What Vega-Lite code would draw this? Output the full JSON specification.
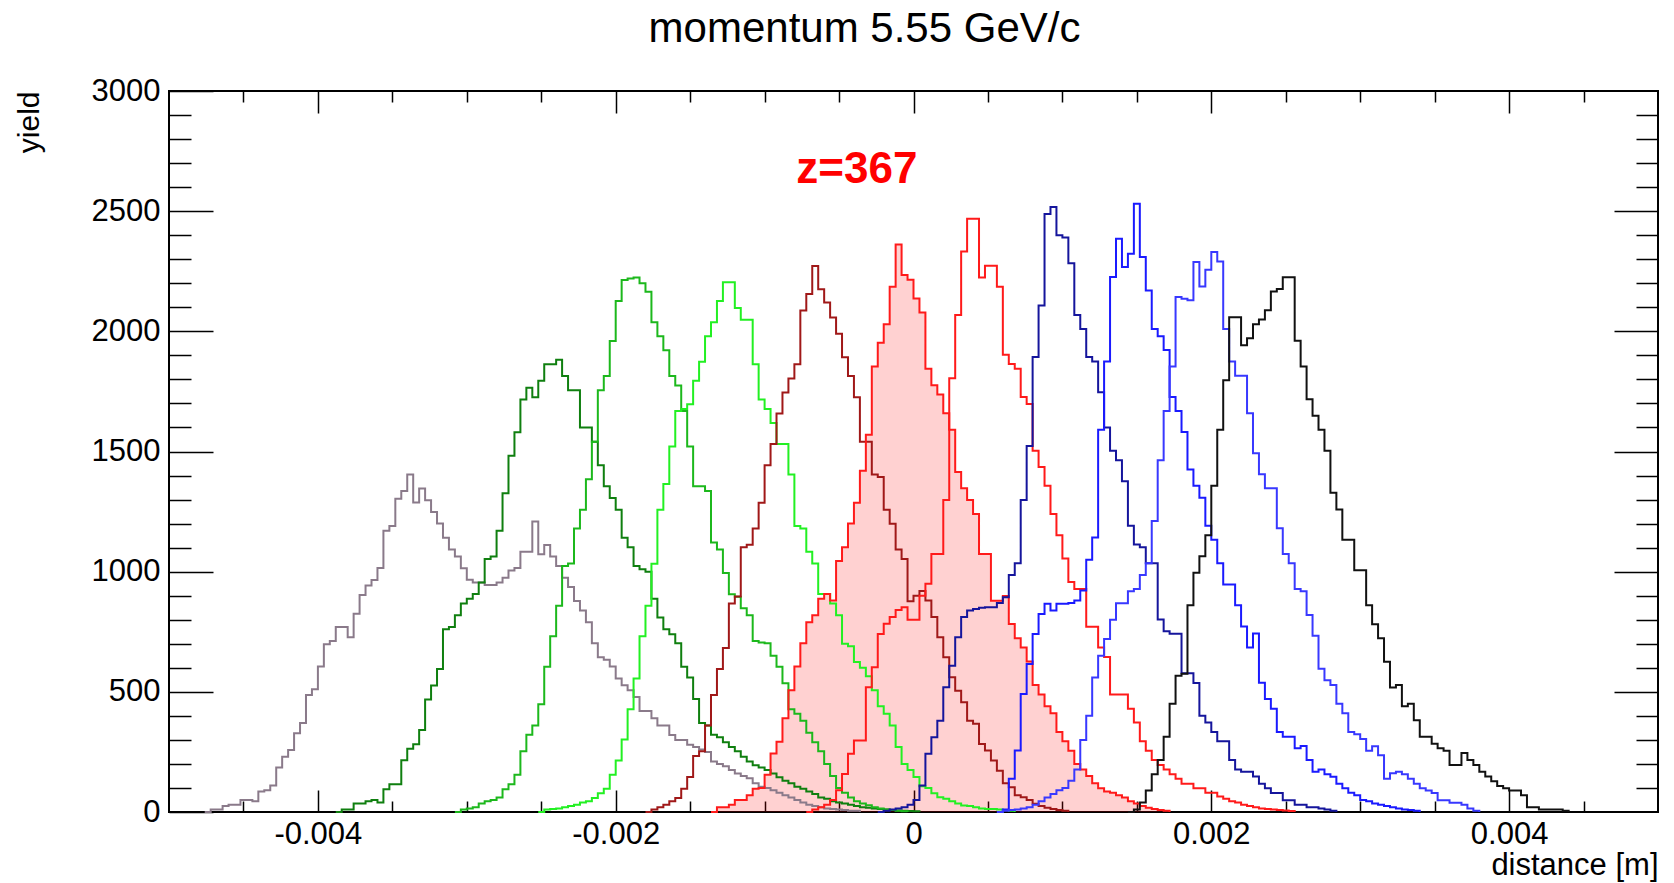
{
  "$schema": "https://vega.github.io/schema/vega-lite/v6.json",
  "width": 1489,
  "height": 721,
  "autosize": "none",
  "padding": {"left": 169, "top": 91, "right": 16, "bottom": 71},
  "background": "#ffffff",
  "view": {"stroke": "#000000", "strokeWidth": 2},
  "title": {
    "text": "momentum 5.55 GeV/c",
    "font": "Liberation Sans",
    "fontSize": 42,
    "fontWeight": "normal",
    "color": "#000000",
    "anchor": "middle",
    "frame": "group",
    "dx": -49,
    "offset": -9,
    "baseline": "alphabetic"
  },
  "data": {
    "values": [
      {"x":-0.00476,"gray":0},
      {"x":-0.00472,"gray":10},
      {"x":-0.00468,"gray":10},
      {"x":-0.00464,"gray":25},
      {"x":-0.0046,"gray":30},
      {"x":-0.00456,"gray":30},
      {"x":-0.00452,"gray":50},
      {"x":-0.00448,"gray":50},
      {"x":-0.00444,"gray":45},
      {"x":-0.0044,"gray":85},
      {"x":-0.00436,"gray":90},
      {"x":-0.00432,"gray":110},
      {"x":-0.00428,"gray":185},
      {"x":-0.00424,"gray":230},
      {"x":-0.0042,"gray":258},
      {"x":-0.00416,"gray":328},
      {"x":-0.00412,"gray":370},
      {"x":-0.00408,"gray":487},
      {"x":-0.00404,"gray":511},
      {"x":-0.004,"gray":605},
      {"x":-0.00396,"gray":698},
      {"x":-0.00392,"gray":712},
      {"x":-0.00388,"gray":770,"dkgreen":0},
      {"x":-0.00384,"gray":770,"dkgreen":10},
      {"x":-0.0038,"gray":727,"dkgreen":10},
      {"x":-0.00376,"gray":825,"dkgreen":35},
      {"x":-0.00372,"gray":903,"dkgreen":35},
      {"x":-0.00368,"gray":942,"dkgreen":45},
      {"x":-0.00364,"gray":965,"dkgreen":50},
      {"x":-0.0036,"gray":1015,"dkgreen":40},
      {"x":-0.00356,"gray":1170,"dkgreen":95},
      {"x":-0.00352,"gray":1190,"dkgreen":115},
      {"x":-0.00348,"gray":1303,"dkgreen":115},
      {"x":-0.00344,"gray":1336,"dkgreen":215},
      {"x":-0.0034,"gray":1404,"dkgreen":263},
      {"x":-0.00336,"gray":1288,"dkgreen":282},
      {"x":-0.00332,"gray":1346,"dkgreen":341},
      {"x":-0.00328,"gray":1297,"dkgreen":468},
      {"x":-0.00324,"gray":1248,"dkgreen":526},
      {"x":-0.0032,"gray":1200,"dkgreen":595},
      {"x":-0.00316,"gray":1141,"dkgreen":760},
      {"x":-0.00312,"gray":1092,"dkgreen":770},
      {"x":-0.00308,"gray":1063,"dkgreen":819,"green":0},
      {"x":-0.00304,"gray":1014,"dkgreen":868,"green":10},
      {"x":-0.003,"gray":966,"dkgreen":887,"green":15},
      {"x":-0.00296,"gray":955,"dkgreen":907,"green":20},
      {"x":-0.00292,"gray":955,"dkgreen":955,"green":35},
      {"x":-0.00288,"gray":945,"dkgreen":1053,"green":45},
      {"x":-0.00284,"gray":945,"dkgreen":1063,"green":50},
      {"x":-0.0028,"gray":955,"dkgreen":1170,"green":60},
      {"x":-0.00276,"gray":975,"dkgreen":1326,"green":95},
      {"x":-0.00272,"gray":1005,"dkgreen":1482,"green":115},
      {"x":-0.00268,"gray":1015,"dkgreen":1580,"green":155},
      {"x":-0.00264,"gray":1083,"dkgreen":1716,"green":253},
      {"x":-0.0026,"gray":1083,"dkgreen":1765,"green":321},
      {"x":-0.00256,"gray":1209,"dkgreen":1726,"green":360},
      {"x":-0.00252,"gray":1072,"dkgreen":1794,"green":448,"ltgreen":0},
      {"x":-0.00248,"gray":1111,"dkgreen":1863,"green":604,"ltgreen":10},
      {"x":-0.00244,"gray":1063,"dkgreen":1863,"green":731,"ltgreen":12},
      {"x":-0.0024,"gray":1024,"dkgreen":1882,"green":858,"ltgreen":15},
      {"x":-0.00236,"gray":975,"dkgreen":1814,"green":1024,"ltgreen":20},
      {"x":-0.00232,"gray":936,"dkgreen":1755,"green":1034,"ltgreen":25},
      {"x":-0.00228,"gray":878,"dkgreen":1755,"green":1180,"ltgreen":30},
      {"x":-0.00224,"gray":838,"dkgreen":1600,"green":1258,"ltgreen":40},
      {"x":-0.0022,"gray":790,"dkgreen":1600,"green":1385,"ltgreen":45},
      {"x":-0.00216,"gray":702,"dkgreen":1541,"green":1541,"ltgreen":58},
      {"x":-0.00212,"gray":644,"dkgreen":1443,"green":1755,"ltgreen":78},
      {"x":-0.00208,"gray":634,"dkgreen":1355,"green":1814,"ltgreen":97},
      {"x":-0.00204,"gray":605,"dkgreen":1307,"green":1960,"ltgreen":155},
      {"x":-0.002,"gray":556,"dkgreen":1258,"green":2126,"ltgreen":214},
      {"x":-0.00196,"gray":527,"dkgreen":1141,"green":2214,"ltgreen":302},
      {"x":-0.00192,"gray":507,"dkgreen":1102,"green":2220,"ltgreen":428},
      {"x":-0.00188,"gray":478,"dkgreen":1024,"green":2224,"ltgreen":555},
      {"x":-0.00184,"gray":420,"dkgreen":1010,"green":2200,"ltgreen":731},
      {"x":-0.0018,"gray":420,"dkgreen":1000,"green":2165,"ltgreen":858,"dkred":0},
      {"x":-0.00176,"gray":390,"dkgreen":887,"green":2038,"ltgreen":1033,"dkred":10},
      {"x":-0.00172,"gray":360,"dkgreen":809,"green":1980,"ltgreen":1258,"dkred":20},
      {"x":-0.00168,"gray":360,"dkgreen":760,"green":1921,"ltgreen":1365,"dkred":30},
      {"x":-0.00164,"gray":320,"dkgreen":740,"green":1814,"ltgreen":1521,"dkred":45},
      {"x":-0.0016,"gray":300,"dkgreen":702,"green":1775,"ltgreen":1668,"dkred":58},
      {"x":-0.00156,"gray":300,"dkgreen":604,"green":1668,"ltgreen":1677,"dkred":97},
      {"x":-0.00152,"gray":280,"dkgreen":560,"green":1521,"ltgreen":1697,"dkred":146},
      {"x":-0.00148,"gray":270,"dkgreen":470,"green":1355,"ltgreen":1794,"dkred":233},
      {"x":-0.00144,"gray":260,"dkgreen":370,"green":1355,"ltgreen":1873,"dkred":253},
      {"x":-0.0014,"gray":250,"dkgreen":360,"green":1336,"ltgreen":1980,"dkred":360},
      {"x":-0.00136,"gray":210,"dkgreen":321,"green":1121,"ltgreen":2038,"dkred":487,"fill":0},
      {"x":-0.00132,"gray":200,"dkgreen":311,"green":1092,"ltgreen":2126,"dkred":595,"fill":20},
      {"x":-0.00128,"gray":190,"dkgreen":290,"green":994,"ltgreen":2204,"dkred":682,"fill":20},
      {"x":-0.00124,"gray":175,"dkgreen":270,"green":906,"ltgreen":2204,"dkred":868,"fill":30},
      {"x":-0.0012,"gray":160,"dkgreen":253,"green":896,"ltgreen":2097,"dkred":897,"fill":50},
      {"x":-0.00116,"gray":150,"dkgreen":230,"green":848,"ltgreen":2048,"dkred":1102,"fill":50},
      {"x":-0.00112,"gray":140,"dkgreen":210,"green":819,"ltgreen":2048,"dkred":1112,"fill":70},
      {"x":-0.00108,"gray":120,"dkgreen":195,"green":711,"ltgreen":1863,"dkred":1180,"fill":97},
      {"x":-0.00104,"gray":105,"dkgreen":185,"green":705,"ltgreen":1716,"dkred":1287,"fill":100},
      {"x":-0.001,"gray":100,"dkgreen":175,"green":702,"ltgreen":1677,"dkred":1443,"fill":155},
      {"x":-0.00096,"gray":90,"dkgreen":160,"green":650,"ltgreen":1619,"dkred":1531,"fill":243},
      {"x":-0.00092,"gray":80,"dkgreen":145,"green":604,"ltgreen":1531,"dkred":1658,"fill":292},
      {"x":-0.00088,"gray":70,"dkgreen":130,"green":536,"ltgreen":1531,"dkred":1746,"fill":390},
      {"x":-0.00084,"gray":60,"dkgreen":120,"green":428,"ltgreen":1404,"dkred":1804,"fill":507},
      {"x":-0.0008,"gray":50,"dkgreen":105,"green":409,"ltgreen":1190,"dkred":1863,"fill":605},
      {"x":-0.00076,"gray":40,"dkgreen":97,"green":380,"ltgreen":1180,"dkred":2087,"fill":702},
      {"x":-0.00072,"gray":30,"dkgreen":85,"green":330,"ltgreen":1083,"dkred":2155,"fill":790,"red":0},
      {"x":-0.00068,"gray":25,"dkgreen":75,"green":290,"ltgreen":1034,"dkred":2272,"fill":819,"red":10},
      {"x":-0.00064,"gray":20,"dkgreen":60,"green":253,"ltgreen":907,"dkred":2175,"fill":887,"red":20},
      {"x":-0.0006,"gray":15,"dkgreen":55,"green":200,"ltgreen":907,"dkred":2120,"fill":907,"red":30},
      {"x":-0.00056,"gray":12,"dkgreen":45,"green":150,"ltgreen":868,"dkred":2058,"fill":880,"red":50},
      {"x":-0.00052,"gray":10,"dkgreen":40,"green":100,"ltgreen":819,"dkred":1990,"fill":1044,"red":90},
      {"x":-0.00048,"gray":8,"dkgreen":35,"green":80,"ltgreen":700,"dkred":1892,"fill":1102,"red":158},
      {"x":-0.00044,"gray":5,"dkgreen":30,"green":60,"ltgreen":690,"dkred":1814,"fill":1200,"red":242},
      {"x":-0.0004,"gray":5,"dkgreen":25,"green":45,"ltgreen":624,"dkred":1726,"fill":1287,"red":297},
      {"x":-0.00036,"gray":0,"dkgreen":20,"green":35,"ltgreen":600,"dkred":1541,"fill":1420,"red":297},
      {"x":-0.00032,"dkgreen":18,"green":28,"ltgreen":565,"dkred":1541,"fill":1570,"red":519},
      {"x":-0.00028,"dkgreen":15,"green":20,"ltgreen":507,"dkred":1404,"fill":1854,"red":602},
      {"x":-0.00024,"dkgreen":12,"green":15,"ltgreen":440,"dkred":1394,"fill":1952,"red":741,"navy":0},
      {"x":-0.0002,"dkgreen":10,"green":10,"ltgreen":409,"dkred":1258,"fill":2029,"red":783,"navy":5},
      {"x":-0.00016,"dkgreen":8,"green":8,"ltgreen":360,"dkred":1199,"fill":2185,"red":811,"navy":10},
      {"x":-0.00012,"dkgreen":6,"green":5,"ltgreen":270,"dkred":1092,"fill":2361,"red":840,"navy":15},
      {"x":-0.00008,"dkgreen":5,"green":3,"ltgreen":200,"dkred":1053,"fill":2234,"red":852,"navy":20},
      {"x":-0.00004,"dkgreen":4,"green":0,"ltgreen":175,"dkred":877,"fill":2215,"red":800,"navy":30},
      {"x":0,"dkgreen":3,"ltgreen":146,"dkred":900,"fill":2137,"red":800,"navy":50},
      {"x":0.00004,"dkgreen":0,"ltgreen":107,"dkred":920,"fill":2078,"red":900,"navy":110},
      {"x":0.00008,"ltgreen":100,"dkred":880,"fill":1844,"red":950,"navy":242},
      {"x":0.00012,"ltgreen":78,"dkred":811,"fill":1776,"red":1074,"navy":311},
      {"x":0.00016,"ltgreen":61,"dkred":727,"fill":1737,"red":1074,"navy":380},
      {"x":0.0002,"ltgreen":55,"dkred":644,"fill":1659,"red":1298,"navy":519},
      {"x":0.00024,"ltgreen":45,"dkred":561,"fill":1591,"red":1805,"navy":609},
      {"x":0.00028,"ltgreen":35,"dkred":505,"fill":1415,"red":2068,"navy":727},
      {"x":0.00032,"ltgreen":27,"dkred":457,"fill":1347,"red":2332,"navy":811},
      {"x":0.00036,"ltgreen":25,"dkred":380,"fill":1298,"red":2468,"navy":838},
      {"x":0.0004,"ltgreen":20,"dkred":367,"fill":1240,"red":2468,"navy":845},
      {"x":0.00044,"ltgreen":15,"dkred":283,"fill":1074,"red":2224,"navy":850},
      {"x":0.00048,"ltgreen":13,"dkred":256,"fill":1074,"red":2273,"navy":852},
      {"x":0.00052,"ltgreen":12,"dkred":214,"fill":879,"red":2273,"navy":852},
      {"x":0.00056,"ltgreen":10,"dkred":172,"fill":879,"red":2185,"navy":870,"blue":0,"ltblue":0},
      {"x":0.0006,"ltgreen":8,"dkred":120,"fill":899,"red":1903,"navy":894,"blue":10,"ltblue":5},
      {"x":0.00064,"ltgreen":5,"dkred":103,"fill":782,"red":1864,"navy":986,"blue":138,"ltblue":8},
      {"x":0.00068,"ltgreen":0,"dkred":70,"fill":723,"red":1844,"navy":1035,"blue":256,"ltblue":10},
      {"x":0.00072,"dkred":61,"fill":684,"red":1727,"navy":1298,"blue":491,"ltblue":15},
      {"x":0.00076,"dkred":50,"fill":626,"red":1698,"navy":1523,"blue":616,"ltblue":20},
      {"x":0.0008,"dkred":34,"fill":528,"red":1503,"navy":1893,"blue":741,"ltblue":30},
      {"x":0.00084,"dkred":25,"fill":489,"red":1435,"navy":2107,"blue":824,"ltblue":45},
      {"x":0.00088,"dkred":18,"fill":440,"red":1357,"navy":2488,"blue":866,"ltblue":60},
      {"x":0.00092,"dkred":12,"fill":411,"red":1240,"navy":2517,"blue":838,"ltblue":75},
      {"x":0.00096,"dkred":8,"fill":333,"red":1152,"navy":2400,"blue":866,"ltblue":90},
      {"x":0.001,"dkred":5,"fill":294,"red":1055,"navy":2390,"blue":866,"ltblue":100},
      {"x":0.00104,"dkred":0,"fill":255,"red":957,"navy":2283,"blue":870,"ltblue":130},
      {"x":0.00108,"fill":200,"red":928,"navy":2068,"blue":880,"ltblue":177},
      {"x":0.00112,"fill":177,"red":928,"navy":2010,"blue":922,"ltblue":300},
      {"x":0.00116,"fill":150,"red":771,"navy":1893,"blue":1050,"ltblue":400},
      {"x":0.0012,"fill":120,"red":771,"navy":1874,"blue":1142,"ltblue":560},
      {"x":0.00124,"fill":99,"red":684,"navy":1747,"blue":1591,"ltblue":650},
      {"x":0.00128,"fill":85,"red":645,"navy":1600,"blue":1874,"ltblue":720},
      {"x":0.00132,"fill":80,"red":489,"navy":1503,"blue":2226,"ltblue":800},
      {"x":0.00136,"fill":70,"red":489,"navy":1464,"blue":2385,"ltblue":869},
      {"x":0.0014,"fill":60,"red":489,"navy":1376,"blue":2268,"ltblue":869},
      {"x":0.00144,"fill":45,"red":430,"navy":1191,"blue":2323,"ltblue":918,"black":0},
      {"x":0.00148,"fill":35,"red":372,"navy":1113,"blue":2531,"ltblue":928,"black":10},
      {"x":0.00152,"fill":25,"red":294,"navy":1102,"blue":2309,"ltblue":986,"black":40},
      {"x":0.00156,"fill":18,"red":255,"navy":1035,"blue":2170,"ltblue":1035,"black":89},
      {"x":0.0016,"fill":12,"red":216,"navy":1035,"blue":2010,"ltblue":1211,"black":157},
      {"x":0.00164,"fill":8,"red":196,"navy":801,"blue":1980,"ltblue":1464,"black":216},
      {"x":0.00168,"fill":5,"red":177,"navy":752,"blue":1922,"ltblue":1669,"black":313},
      {"x":0.00172,"fill":0,"red":157,"navy":742,"blue":1727,"ltblue":1854,"black":450},
      {"x":0.00176,"red":138,"navy":742,"blue":1669,"ltblue":2143,"black":567},
      {"x":0.0018,"red":118,"navy":577,"blue":1581,"ltblue":2136,"black":575},
      {"x":0.00184,"red":118,"navy":577,"blue":1425,"ltblue":2129,"black":860},
      {"x":0.00188,"red":99,"navy":537,"blue":1357,"ltblue":2288,"black":996},
      {"x":0.00192,"red":99,"navy":401,"blue":1308,"ltblue":2187,"black":1064},
      {"x":0.00196,"red":80,"navy":372,"blue":1191,"ltblue":2256,"black":1152},
      {"x":0.002,"red":80,"navy":333,"blue":1133,"ltblue":2330,"black":1357},
      {"x":0.00204,"red":65,"navy":294,"blue":1035,"ltblue":2291,"black":1591},
      {"x":0.00208,"red":55,"navy":294,"blue":947,"ltblue":2010,"black":1796},
      {"x":0.00212,"red":45,"navy":216,"blue":947,"ltblue":1874,"black":2059},
      {"x":0.00216,"red":40,"navy":177,"blue":860,"ltblue":1815,"black":2059},
      {"x":0.0022,"red":30,"navy":167,"blue":772,"ltblue":1815,"black":1942},
      {"x":0.00224,"red":25,"navy":167,"blue":684,"ltblue":1659,"black":1971},
      {"x":0.00228,"red":20,"navy":148,"blue":743,"ltblue":1493,"black":2029},
      {"x":0.00232,"red":15,"navy":118,"blue":538,"ltblue":1405,"black":2049},
      {"x":0.00236,"red":12,"navy":99,"blue":470,"ltblue":1347,"black":2088},
      {"x":0.0024,"red":10,"navy":79,"blue":430,"ltblue":1347,"black":2166},
      {"x":0.00244,"red":8,"navy":79,"blue":333,"ltblue":1181,"black":2176},
      {"x":0.00248,"red":6,"navy":49,"blue":313,"ltblue":1074,"black":2225},
      {"x":0.00252,"red":4,"navy":49,"blue":313,"ltblue":1035,"black":2225},
      {"x":0.00256,"red":0,"navy":30,"blue":265,"ltblue":928,"black":1961},
      {"x":0.0026,"navy":30,"blue":275,"ltblue":918,"black":1854},
      {"x":0.00264,"navy":20,"blue":216,"ltblue":820,"black":1717},
      {"x":0.00268,"navy":20,"blue":167,"ltblue":733,"black":1649},
      {"x":0.00272,"navy":15,"blue":177,"ltblue":596,"black":1591},
      {"x":0.00276,"navy":10,"blue":157,"ltblue":548,"black":1503},
      {"x":0.0028,"navy":5,"blue":147,"ltblue":528,"black":1328},
      {"x":0.00284,"navy":0,"blue":118,"ltblue":450,"black":1259},
      {"x":0.00288,"blue":99,"ltblue":411,"black":1133},
      {"x":0.00292,"blue":80,"ltblue":333,"black":1133},
      {"x":0.00296,"blue":70,"ltblue":323,"black":1006},
      {"x":0.003,"blue":50,"ltblue":304,"black":1006},
      {"x":0.00304,"blue":45,"ltblue":255,"black":860},
      {"x":0.00308,"blue":35,"ltblue":274,"black":781},
      {"x":0.00312,"blue":30,"ltblue":236,"black":723},
      {"x":0.00316,"blue":25,"ltblue":138,"black":625},
      {"x":0.0032,"blue":20,"ltblue":161,"black":518},
      {"x":0.00324,"blue":15,"ltblue":167,"black":528},
      {"x":0.00328,"blue":10,"ltblue":157,"black":440},
      {"x":0.00332,"blue":8,"ltblue":138,"black":450},
      {"x":0.00336,"blue":5,"ltblue":118,"black":382},
      {"x":0.0034,"blue":0,"ltblue":99,"black":313},
      {"x":0.00344,"ltblue":89,"black":313},
      {"x":0.00348,"ltblue":79,"black":284},
      {"x":0.00352,"ltblue":49,"black":265},
      {"x":0.00356,"ltblue":49,"black":255},
      {"x":0.0036,"ltblue":39,"black":196},
      {"x":0.00364,"ltblue":39,"black":196},
      {"x":0.00368,"ltblue":30,"black":245},
      {"x":0.00372,"ltblue":15,"black":216},
      {"x":0.00376,"ltblue":5,"black":196},
      {"x":0.0038,"ltblue":0,"black":167},
      {"x":0.00384,"black":148},
      {"x":0.00388,"black":128},
      {"x":0.00392,"black":108},
      {"x":0.00396,"black":99},
      {"x":0.004,"black":89},
      {"x":0.00404,"black":89},
      {"x":0.00408,"black":70},
      {"x":0.00412,"black":20},
      {"x":0.00416,"black":20},
      {"x":0.0042,"black":10},
      {"x":0.00424,"black":10},
      {"x":0.00428,"black":10},
      {"x":0.00432,"black":10},
      {"x":0.00436,"black":5},
      {"x":0.0044,"black":0}
    ]
  },
  "encoding": {
    "x": {"field": "x", "type": "quantitative", "scale": {"domain": [-0.005, 0.005], "nice": false, "zero": false}, "axis": null}
  },
  "layer": [
    {
      "mark": {"type": "area", "interpolate": "step-after", "fill": "#ff0000", "fillOpacity": 0.18, "strokeWidth": 0},
      "encoding": {
        "x": {
          "field": "x", "type": "quantitative",
          "scale": {"domain": [-0.005, 0.005], "nice": false, "zero": false},
          "axis": {
            "orient": "bottom",
            "values": [-0.0045,-0.004,-0.0035,-0.003,-0.0025,-0.002,-0.0015,-0.001,-0.0005,0,0.0005,0.001,0.0015,0.002,0.0025,0.003,0.0035,0.004,0.0045],
            "domain": false, "grid": false,
            "ticks": true, "tickColor": "#000000", "tickWidth": 1.5,
            "tickSize": {"condition": {"test": "abs(datum.value*500 - round(datum.value*500)) < 0.01", "value": -22}, "value": -11},
            "labelExpr": "abs(datum.value*500 - round(datum.value*500)) < 0.01 ? (datum.value == 0 ? '0' : (datum.value < 0 ? '-' : '') + format(abs(datum.value), '.3f')) : ''",
            "labelFont": "Liberation Sans", "labelFontSize": 31, "labelColor": "#000000",
            "labelPadding": 29, "labelFlush": false, "labelOverlap": false, "labelBound": false,
            "title": "distance [m]", "titleFont": "Liberation Sans", "titleFontSize": 31, "titleFontWeight": "normal", "titleColor": "#000000",
            "titleAlign": "right", "titleBaseline": "alphabetic", "titleX": 1489, "titleY": 62
          }
        },
        "y": {
          "field": "fill", "type": "quantitative", "stack": null,
          "scale": {"domain": [0, 3000], "nice": false},
          "axis": {
            "orient": "left",
            "values": [0,100,200,300,400,500,600,700,800,900,1000,1100,1200,1300,1400,1500,1600,1700,1800,1900,2000,2100,2200,2300,2400,2500,2600,2700,2800,2900,3000],
            "domain": false, "grid": false,
            "ticks": true, "tickColor": "#000000", "tickWidth": 1.5,
            "tickSize": {"condition": {"test": "datum.value % 500 == 0", "value": -44}, "value": -22},
            "labelExpr": "datum.value % 500 == 0 ? format(datum.value, 'd') : ''",
            "labelFont": "Liberation Sans", "labelFontSize": 31, "labelColor": "#000000",
            "labelPadding": 53, "labelFlush": false, "labelOverlap": false, "labelBound": false,
            "title": "yield", "titleFont": "Liberation Sans", "titleFontSize": 30, "titleFontWeight": "normal", "titleColor": "#000000",
            "titleAngle": -90, "titleAlign": "right", "titleBaseline": "alphabetic", "titleX": -131, "titleY": 0
          }
        }
      }
    },
    {
      "mark": {"type": "line", "interpolate": "step-after", "color": "#8a7a8a", "strokeWidth": 2},
      "encoding": {
        "x": {
          "field": "x", "type": "quantitative",
          "scale": {"domain": [-0.005, 0.005], "nice": false, "zero": false},
          "axis": {
            "orient": "top",
            "values": [-0.0045,-0.004,-0.0035,-0.003,-0.0025,-0.002,-0.0015,-0.001,-0.0005,0,0.0005,0.001,0.0015,0.002,0.0025,0.003,0.0035,0.004,0.0045],
            "domain": false, "grid": false, "labels": false, "title": null,
            "ticks": true, "tickColor": "#000000", "tickWidth": 1.5,
            "tickSize": {"condition": {"test": "abs(datum.value*500 - round(datum.value*500)) < 0.01", "value": -22}, "value": -11}
          }
        },
        "y": {
          "field": "gray", "type": "quantitative",
          "scale": {"domain": [0, 3000], "nice": false},
          "axis": {
            "orient": "right",
            "values": [100,200,300,400,500,600,700,800,900,1000,1100,1200,1300,1400,1500,1600,1700,1800,1900,2000,2100,2200,2300,2400,2500,2600,2700,2800,2900],
            "domain": false, "grid": false, "labels": false, "title": null,
            "ticks": true, "tickColor": "#000000", "tickWidth": 1.5,
            "tickSize": {"condition": {"test": "datum.value % 500 == 0", "value": -44}, "value": -22}
          }
        }
      }
    },
    {
      "mark": {"type": "line", "interpolate": "step-after", "color": "#0f7f0f", "strokeWidth": 2},
      "encoding": {"y": {"field": "dkgreen", "type": "quantitative", "scale": {"domain": [0, 3000], "nice": false}, "axis": null}}
    },
    {
      "mark": {"type": "line", "interpolate": "step-after", "color": "#1cb81c", "strokeWidth": 2},
      "encoding": {"y": {"field": "green", "type": "quantitative", "scale": {"domain": [0, 3000], "nice": false}, "axis": null}}
    },
    {
      "mark": {"type": "line", "interpolate": "step-after", "color": "#22f022", "strokeWidth": 2},
      "encoding": {"y": {"field": "ltgreen", "type": "quantitative", "scale": {"domain": [0, 3000], "nice": false}, "axis": null}}
    },
    {
      "mark": {"type": "line", "interpolate": "step-after", "color": "#a01818", "strokeWidth": 2},
      "encoding": {"y": {"field": "dkred", "type": "quantitative", "scale": {"domain": [0, 3000], "nice": false}, "axis": null}}
    },
    {
      "mark": {"type": "line", "interpolate": "step-after", "color": "#ff1a1a", "strokeWidth": 2},
      "encoding": {"y": {"field": "fill", "type": "quantitative", "scale": {"domain": [0, 3000], "nice": false}, "axis": null}}
    },
    {
      "mark": {"type": "line", "interpolate": "step-after", "color": "#ff1a1a", "strokeWidth": 2},
      "encoding": {"y": {"field": "red", "type": "quantitative", "scale": {"domain": [0, 3000], "nice": false}, "axis": null}}
    },
    {
      "mark": {"type": "line", "interpolate": "step-after", "color": "#15159c", "strokeWidth": 2},
      "encoding": {"y": {"field": "navy", "type": "quantitative", "scale": {"domain": [0, 3000], "nice": false}, "axis": null}}
    },
    {
      "mark": {"type": "line", "interpolate": "step-after", "color": "#1a1aff", "strokeWidth": 2},
      "encoding": {"y": {"field": "blue", "type": "quantitative", "scale": {"domain": [0, 3000], "nice": false}, "axis": null}}
    },
    {
      "mark": {"type": "line", "interpolate": "step-after", "color": "#3838ff", "strokeWidth": 2},
      "encoding": {"y": {"field": "ltblue", "type": "quantitative", "scale": {"domain": [0, 3000], "nice": false}, "axis": null}}
    },
    {
      "mark": {"type": "line", "interpolate": "step-after", "color": "#111111", "strokeWidth": 2},
      "encoding": {"y": {"field": "black", "type": "quantitative", "scale": {"domain": [0, 3000], "nice": false}, "axis": null}}
    },
    {
      "data": {"values": [{"x": -0.00038, "y": 2670, "label": "z=367"}]},
      "mark": {"type": "text", "font": "Liberation Sans", "fontSize": 44, "fontWeight": "bold", "color": "#ff0000", "align": "center", "baseline": "middle"},
      "encoding": {
        "y": {"field": "y", "type": "quantitative", "scale": {"domain": [0, 3000], "nice": false}, "axis": null},
        "text": {"field": "label", "type": "nominal"}
      }
    }
  ],
  "resolve": {"axis": {"x": "independent", "y": "independent"}}
}
